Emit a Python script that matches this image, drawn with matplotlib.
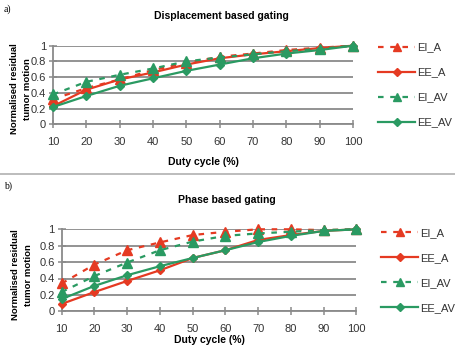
import matplotlib
matplotlib.use('Agg')
import matplotlib.pyplot as plt

plt.rcParams['font.family'] = ['Liberation Sans', 'DejaVu Sans']

duty = [10, 20, 30, 40, 50, 60, 70, 80, 90, 100]

# a) displacement based gating
disp_ei_a = [0.32, 0.46, 0.57, 0.69, 0.78, 0.86, 0.90, 0.945, 0.975, 1.0]
disp_ee_a = [0.23, 0.44, 0.57, 0.66, 0.76, 0.84, 0.89, 0.93, 0.97, 1.0]
disp_ei_av = [0.38, 0.54, 0.63, 0.71, 0.80, 0.85, 0.89, 0.93, 0.96, 1.0]
disp_ee_av = [0.22, 0.36, 0.49, 0.585, 0.68, 0.76, 0.84, 0.90, 0.945, 1.0]

# b) phase based gating
phase_ei_a = [0.34, 0.57, 0.745, 0.84, 0.93, 0.97, 1.0, 1.0, 0.99, 1.0]
phase_ee_a = [0.09, 0.235, 0.37, 0.50, 0.65, 0.745, 0.87, 0.93, 0.98, 1.0]
phase_ei_av = [0.235, 0.43, 0.595, 0.745, 0.85, 0.92, 0.95, 0.97, 0.99, 1.0]
phase_ee_av = [0.15, 0.31, 0.44, 0.55, 0.65, 0.745, 0.845, 0.92, 0.98, 1.0]

red = '#e53a22'
green = '#2a9a62'
grid_c = '#8a8a8a'
W, H = 456, 350

fig = plt.figure(figsize=(4.56, 3.5), dpi=100)


def px_axes(left, top, right, bottom):
    return fig.add_axes([left / W, 1 - bottom / H, (right - left) / W, (bottom - top) / H])


def draw_panel(ax, ei_a, ee_a, ei_av, ee_av, title, xpad):
    ax.plot(duty, ei_a, color=red, ls=(0, (2.5, 3)), lw=1.6, marker='^', ms=7, label='EI_A', clip_on=False, zorder=3)
    ax.plot(duty, ee_a, color=red, ls='-', lw=1.6, marker='D', ms=4.5, label='EE_A', clip_on=False, zorder=3)
    ax.plot(duty, ei_av, color=green, ls=(0, (2.5, 3)), lw=1.6, marker='^', ms=7, label='EI_AV', clip_on=False, zorder=4)
    ax.plot(duty, ee_av, color=green, ls='-', lw=1.6, marker='D', ms=4.5, label='EE_AV', clip_on=False, zorder=4)

    ax.set_xlim(10, 100)
    ax.set_ylim(0, 1)
    ax.set_xticks(duty)
    ax.set_yticks([0, 0.2, 0.4, 0.6, 0.8, 1])
    ax.set_yticklabels(['0', '0.2', '0.4', '0.6', '0.8', '1'])
    ax.yaxis.grid(True, color=grid_c, lw=1.3)
    ax.set_axisbelow(True)
    for s in ['top', 'right']:
        ax.spines[s].set_visible(False)
    for s in ['left', 'bottom']:
        ax.spines[s].set_color(grid_c)
        ax.spines[s].set_linewidth(1.3)
    ax.tick_params(direction='inout', length=6, width=1.1, color=grid_c,
                   labelsize=8, labelcolor='#333333', pad=6)
    ax.tick_params(axis='y', pad=2)
    ax.set_xlabel('Duty cycle (%)', fontsize=7.5, fontweight='bold', labelpad=xpad)
    ax.set_title(title, fontsize=7.5, fontweight='bold', pad=19, x=0.56)
    ax.legend(loc='center left', bbox_to_anchor=(1.07, 0.5), frameon=False,
              handlelength=3.3, labelspacing=1.35, fontsize=8, handletextpad=0.15,
              borderaxespad=0, labelcolor='#333333', markerscale=0.8)


ax1 = px_axes(53, 45.7, 353, 124.3)
draw_panel(ax1, disp_ei_a, disp_ee_a, disp_ei_av, disp_ee_av, 'Displacement based gating', 7)

ax2 = px_axes(61.7, 229.3, 356.4, 311.3)
draw_panel(ax2, phase_ei_a, phase_ee_a, phase_ei_av, phase_ee_av, 'Phase based gating', 1)

fig.text(4 / W, 1 - 9 / H, 'a)', fontsize=7, family='Liberation Serif', va='center')
fig.text(4 / W, 1 - 186 / H, 'b)', fontsize=7, family='Liberation Serif', va='center')

fig.text(21 / W, 1 - 89 / H, 'Normalised residual\ntumor motion', rotation=90,
         fontsize=6.8, fontweight='bold', ha='center', va='center', linespacing=1.5)
fig.text(22 / W, 1 - 275 / H, 'Normalised residual\ntumor motion', rotation=90,
         fontsize=6.8, fontweight='bold', ha='center', va='center', linespacing=1.5)

fig.add_artist(plt.Line2D([0, 455 / W], [1 - 174 / H, 1 - 174 / H], color='#b0b0b0', lw=1.2))

fig.savefig('out.png', dpi=100)
